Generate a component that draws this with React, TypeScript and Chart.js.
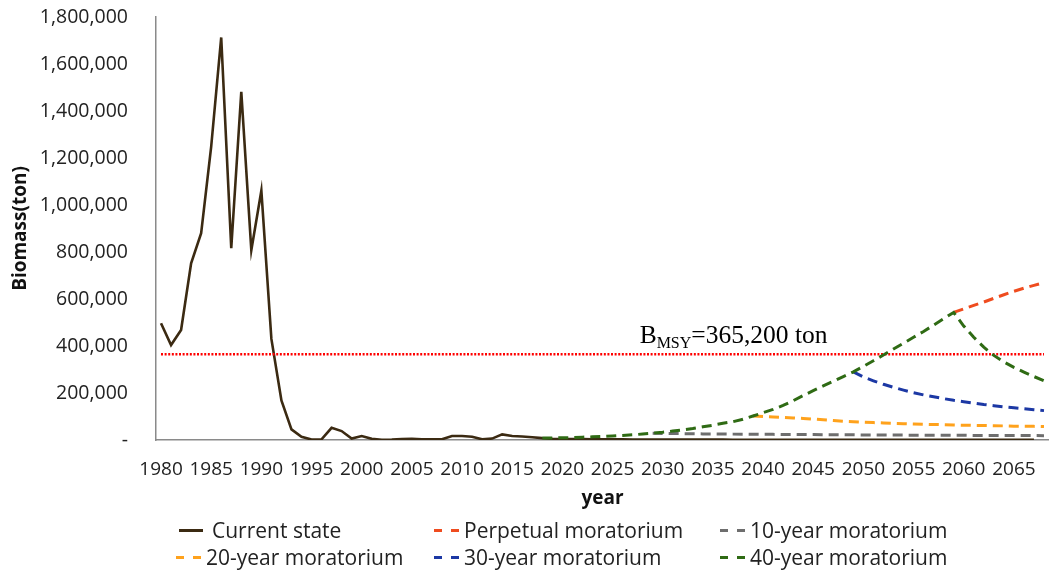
import React, { useEffect, useRef } from "react";
import { Chart, registerables } from "chart.js";

Chart.register(...registerables);

// ---------- data ----------
const FIRST_YEAR = 1980;
const LAST_YEAR = 2068;
const years: number[] = [];
for (let y = FIRST_YEAR; y <= LAST_YEAR; y++) years.push(y);

// Current state, 1980–2068
const currentState = [
  497000, 404000, 468000, 752000, 880000, 1248000, 1713000, 816000, 1482000, 808000,
  1061000, 430000, 168000, 45000, 14000, 2000, 3000, 52000, 38000, 6000,
  17000, 5000, 1000, 2000, 4000, 5000, 3000, 3000, 3000, 17000,
  17000, 14000, 3000, 6000, 24000, 17000, 15000, 12000, 8000,
  5000, 4500, 4000, 3600, 3300, 3000, 2800, 2600, 2400, 2200,
  2000, 1900, 1800, 1700, 1600, 1500, 1450, 1400, 1350, 1300,
  1250, 1200, 1150, 1100, 1050, 1000, 1000, 980, 960, 940,
  920, 900, 900, 880, 860, 840, 820, 800, 800, 780,
  760, 740, 720, 700, 700, 680, 660, 640, 620,
];

// 40-year moratorium (recovery path 2018–2059, then decline 2060–2068)
const fortyYearStart = 2018;
const fortyYear = [
  8000, 8500, 9500, 10500, 12000, 13500, 15000, 17000, 19500, 22000,
  25500, 29000, 33000, 38000, 43000, 49000, 56000, 63000, 71000, 78000,
  88000, 102000, 116000, 130000, 147000, 167000, 189000, 210000, 230000, 250000,
  270000, 290000, 313000, 337000, 362000, 387000, 412000, 437000, 462000, 489000,
  516000, 543000,
  485000, 437000, 395000, 360000, 332000, 309000, 289000, 270000, 252000,
];

// Perpetual moratorium (visible part, 2059–2068)
const perpetualStart = 2059;
const perpetual = [543000, 558000, 573000, 587000, 603000, 618000, 633000, 646000, 658000, 670000];

// 10-year moratorium (from 2029)
const tenYearStart = 2029;
const tenYear = [
  29000, 28000, 27500, 27000, 26500, 26000, 26000, 25500, 25000, 25000,
  24500, 24000, 24000, 23500, 23500, 23000, 23000, 22500, 22500, 22000,
  22000, 21500, 21500, 21000, 21000, 21000, 20500, 20500, 20000, 20000,
  20000, 20000, 19500, 19500, 19500, 19000, 19000, 19000, 19000, 18500,
];

// 20-year moratorium (from 2039)
const twentyYearStart = 2039;
const twentyYear = [
  102000, 100000, 98000, 96000, 94000, 92000, 89000, 86000, 83000, 80000,
  78000, 76000, 74000, 72500, 71000, 69500, 68000, 67000, 66000, 65000,
  64000, 63000, 62000, 61500, 61000, 60000, 59000, 58500, 58000, 57000,
];

// 30-year moratorium (from 2049)
const thirtyYearStart = 2049;
const thirtyYear = [
  290000, 268000, 252000, 237000, 224000, 212000, 201000, 192000, 184000, 176000,
  169000, 163000, 157000, 151000, 146000, 141000, 137000, 133000, 129000, 125000,
];

const BMSY = 365200;

const Y_TICKS_MAX = 1800000;
const Y_TICKS_STEP = 200000;

// ---------- styles ----------
const FONT = "'Open Sans', sans-serif";
const COLORS = {
  current: "#3b2a12",
  perpetual: "#ef4c1f",
  ten: "#6e6e6e",
  twenty: "#ffa21c",
  thirty: "#1c38a4",
  forty: "#2f6b14",
  bmsy: "#ff0000",
};

function pad(start: number, values: number[]): (number | null)[] {
  return years.map((y) => {
    const i = y - start;
    return i >= 0 && i < values.length ? values[i] : null;
  });
}

const LEGEND = [
  { label: "Current state", color: COLORS.current, dashed: false, left: 179, row: 0 },
  { label: "Perpetual moratorium", color: COLORS.perpetual, dashed: true, left: 434, row: 0 },
  { label: "10-year moratorium", color: COLORS.ten, dashed: true, left: 720, row: 0 },
  { label: "20-year moratorium", color: COLORS.twenty, dashed: true, left: 176, row: 1 },
  { label: "30-year moratorium", color: COLORS.thirty, dashed: true, left: 434, row: 1 },
  { label: "40-year moratorium", color: COLORS.forty, dashed: true, left: 720, row: 1 },
];

const bmsyLabel = {
  id: "bmsyLabel",
  afterDatasetsDraw(chart: any) {
    const { ctx, scales } = chart;
    const x = scales.x.getPixelForValue(years.indexOf(2028)) - 3;
    const yLine = scales.y.getPixelForValue(BMSY);
    const base = yLine - 11;
    ctx.save();
    ctx.fillStyle = "#000";
    ctx.textBaseline = "alphabetic";
    ctx.textAlign = "left";
    ctx.font = "25.5px 'Liberation Serif', serif";
    ctx.fillText("B", x, base);
    let cx = x + ctx.measureText("B").width;
    ctx.font = "16px 'Liberation Serif', serif";
    ctx.fillText("MSY", cx, base + 5);
    cx += ctx.measureText("MSY").width;
    ctx.font = "25.5px 'Liberation Serif', serif";
    ctx.fillText("=365,200 ton", cx, base);
    ctx.restore();
  },
};

export default function App() {
  const ref = useRef<HTMLCanvasElement>(null);

  useEffect(() => {
    if (!ref.current) return;
    const dashed = [10, 6];
    const chart = new Chart(ref.current, {
      type: "line",
      data: {
        labels: years.map(String),
        datasets: [
          {
            label: "40-year moratorium",
            data: pad(fortyYearStart, fortyYear),
            borderColor: COLORS.forty,
            borderWidth: 3,
            borderDash: dashed,
          },
          {
            label: "Perpetual moratorium",
            data: pad(perpetualStart, perpetual),
            borderColor: COLORS.perpetual,
            borderWidth: 3,
            borderDash: dashed,
          },
          {
            label: "30-year moratorium",
            data: pad(thirtyYearStart, thirtyYear),
            borderColor: COLORS.thirty,
            borderWidth: 3,
            borderDash: dashed,
          },
          {
            label: "20-year moratorium",
            data: pad(twentyYearStart, twentyYear),
            borderColor: COLORS.twenty,
            borderWidth: 3,
            borderDash: dashed,
          },
          {
            label: "10-year moratorium",
            data: pad(tenYearStart, tenYear),
            borderColor: COLORS.ten,
            borderWidth: 3,
            borderDash: dashed,
          },
          {
            label: "B_MSY",
            data: years.map(() => BMSY),
            borderColor: COLORS.bmsy,
            borderWidth: 2.5,
            borderDash: [2, 1.6],
          },
          {
            label: "Current state",
            data: currentState,
            borderColor: COLORS.current,
            borderWidth: 2.6,
          },
        ],
      },
      options: {
        responsive: false,
        animation: false,
        events: [],
        layout: { padding: { top: 17, right: 0, bottom: 0, left: 0 } },
        elements: {
          point: { radius: 0 },
          line: { tension: 0, fill: false, borderCapStyle: "butt" },
        },
        plugins: {
          legend: { display: false },
          tooltip: { enabled: false },
        },
        scales: {
          x: {
            type: "category",
            offset: true,
            grid: { display: false, drawTicks: true, tickLength: 18 },
            border: { display: true, color: "#8a8a8a", width: 1.5 },
            ticks: {
              autoSkip: false,
              maxRotation: 0,
              minRotation: 0,
              padding: 0,
              color: "#222",
              font: { family: FONT, size: 19 },
              callback: (_v: any, i: number) => (years[i] % 5 === 0 ? String(years[i]) : ""),
            },
            title: {
              display: true,
              text: "year",
              color: "#111",
              font: { family: FONT, size: 19, weight: "bold" },
              padding: { top: 0, bottom: 10 },
            },
            afterFit: (s: any) => {
              s.height = 80;
            },
          },
          y: {
            min: 0,
            max: Y_TICKS_MAX,
            grid: { display: false, drawTicks: true, tickLength: 28 },
            border: { display: true, color: "#8a8a8a", width: 1.5 },
            ticks: {
              stepSize: Y_TICKS_STEP,
              padding: 0,
              color: "#222",
              font: { family: FONT, size: 19.5 },
              callback: (v: any) => (v === 0 ? "-" : Number(v).toLocaleString("en-US")),
            },
            title: {
              display: true,
              text: "Biomass(ton)",
              color: "#111",
              font: { family: FONT, size: 19, weight: "bold" },
              padding: { top: 9, bottom: 0 },
            },
            afterFit: (s: any) => {
              s.width = 156;
            },
          },
        },
      },
      plugins: [bmsyLabel],
    });
    return () => chart.destroy();
  }, []);

  return (
    <div style={{ position: "absolute", left: 0, top: 0, width: 1049, height: 570, background: "#fff", overflow: "hidden" }}>
      <canvas ref={ref} width={1049} height={520} style={{ display: "block" }} />
      {LEGEND.map((it) => (
        <div
          key={it.label}
          style={{
            position: "absolute",
            left: it.left,
            top: (it.row === 0 ? 530 : 557) - 14,
            height: 28,
            display: "flex",
            alignItems: "center",
            fontFamily: FONT,
            fontSize: 21,
            color: "#222",
            whiteSpace: "nowrap",
          }}
        >
          {it.dashed ? (
            <span style={{ display: "flex", width: 29, marginRight: 1 }}>
              <span style={{ width: 8, height: 3, background: it.color, marginRight: 9 }} />
              <span style={{ width: 8, height: 3, background: it.color }} />
            </span>
          ) : (
            <span style={{ width: 24, height: 3, background: it.color, marginRight: 9 }} />
          )}
          <span>{it.label}</span>
        </div>
      ))}
    </div>
  );
}
